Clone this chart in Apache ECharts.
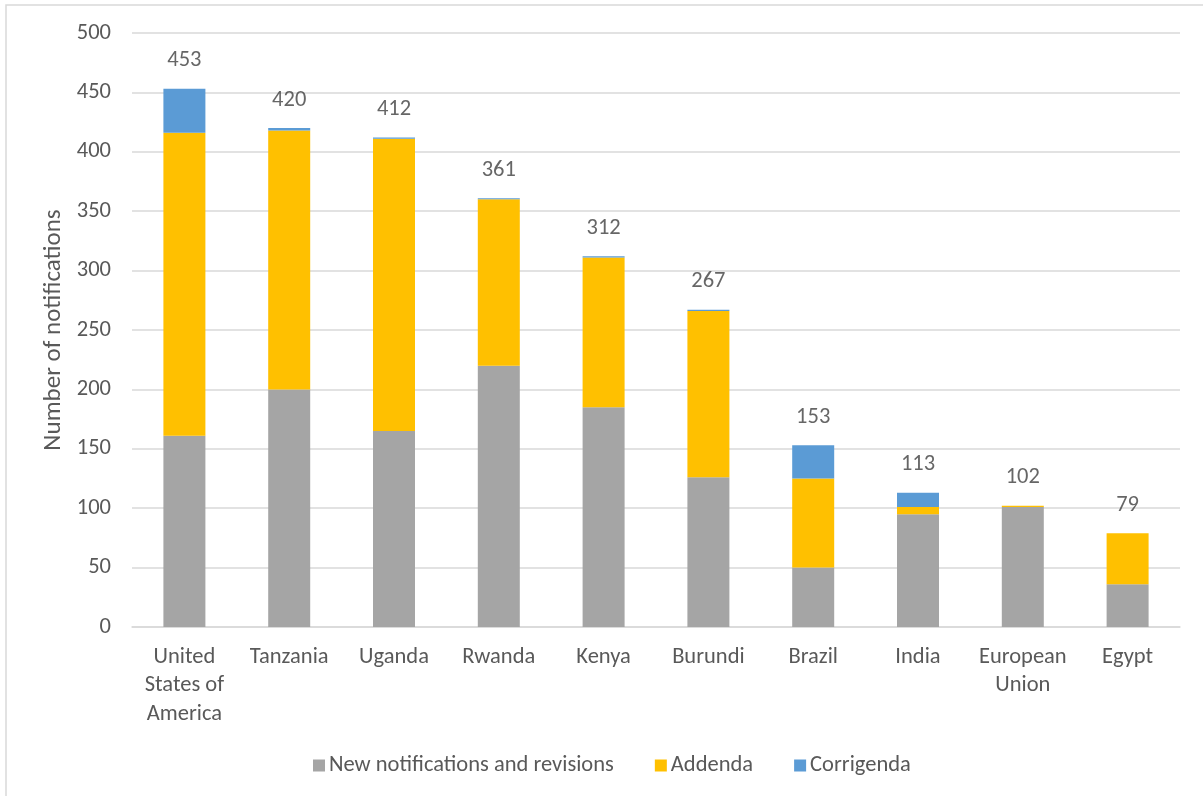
<!DOCTYPE html>
<html>
<head>
<meta charset="utf-8">
<script src="https://cdn.jsdelivr.net/npm/echarts@6/dist/echarts.min.js"></script>
<style>
  html, body { margin: 0; padding: 0; background: #ffffff; }
  #chart { width: 1203px; height: 796px; }
</style>
</head>
<body>
<div id="chart"></div>
<script>
const categories = ["United\nStates of\nAmerica", "Tanzania", "Uganda", "Rwanda", "Kenya", "Burundi", "Brazil", "India", "European\nUnion", "Egypt"];
const newNotifications = [161, 200, 165, 220, 185, 126, 50, 95, 101, 36];
const addenda = [255, 218, 246, 140, 126, 140, 75, 6, 1, 43];
const corrigenda = [37, 2, 1, 1, 1, 1, 28, 12, 0, 0];
const totals = [453, 420, 412, 361, 312, 267, 153, 113, 102, 79];
const yTicks = { min: 0, max: 500, interval: 50 };

const FONT = "Carlito, 'Open Sans', 'Noto Sans', sans-serif";
const TXT = "#595959";
const FS = 22.5;

const chart = echarts.init(document.getElementById('chart'), null, { renderer: 'canvas' });
chart.setOption({
  backgroundColor: '#ffffff',
  animation: false,
  textStyle: { fontFamily: FONT },
  graphic: [{
    type: 'rect',
    shape: { x: 6, y: 5, width: 1300, height: 900 },
    style: { fill: 'none', stroke: '#d9d9d9', lineWidth: 1.5 },
    silent: true, z: -10
  }],
  grid: { left: 132, right: 23, top: 33, bottom: 169, containLabel: false },
  legend: {
    data: ['New notifications and revisions', 'Addenda', 'Corrigenda'],
    top: 754,
    left: 313,
    padding: 0,
    icon: 'rect',
    itemWidth: 12,
    itemHeight: 12,
    itemGap: 41,
    textStyle: { fontFamily: FONT, fontSize: FS, color: TXT, padding: [0, 0, 0, -1] }
  },
  xAxis: {
    type: 'category',
    data: categories,
    axisLine: { lineStyle: { color: '#d9d9d9', width: 1.5 } },
    axisTick: { show: false },
    axisLabel: { fontFamily: FONT, fontSize: FS, color: TXT, margin: 16, lineHeight: 28.5, interval: 0, verticalAlign: 'top' }
  },
  yAxis: {
    type: 'value',
    min: yTicks.min, max: yTicks.max, interval: yTicks.interval,
    name: 'Number of notifications',
    nameLocation: 'middle',
    nameGap: 66,
    nameTextStyle: { fontFamily: FONT, fontSize: 25, color: TXT },
    axisLine: { show: false },
    axisTick: { show: false },
    axisLabel: { fontFamily: FONT, fontSize: FS, color: TXT, margin: 21 },
    splitLine: { lineStyle: { color: '#d9d9d9', width: 1.5 } }
  },
  series: [
    { name: 'New notifications and revisions', type: 'bar', stack: 'total', data: newNotifications, barWidth: 42, itemStyle: { color: '#A5A5A5' } },
    { name: 'Addenda', type: 'bar', stack: 'total', data: addenda, barWidth: 42, itemStyle: { color: '#FFC000' } },
    { name: 'Corrigenda', type: 'bar', stack: 'total', data: corrigenda, barWidth: 42, itemStyle: { color: '#5B9BD5' } },
    {
      name: 'Total', type: 'scatter', data: totals, symbolSize: 1,
      itemStyle: { color: 'rgba(0,0,0,0)' }, silent: true,
      label: { show: true, position: 'top', distance: 16, fontFamily: FONT, fontSize: FS, color: '#404040' }
    }
  ]
});
</script>
</body>
</html>
